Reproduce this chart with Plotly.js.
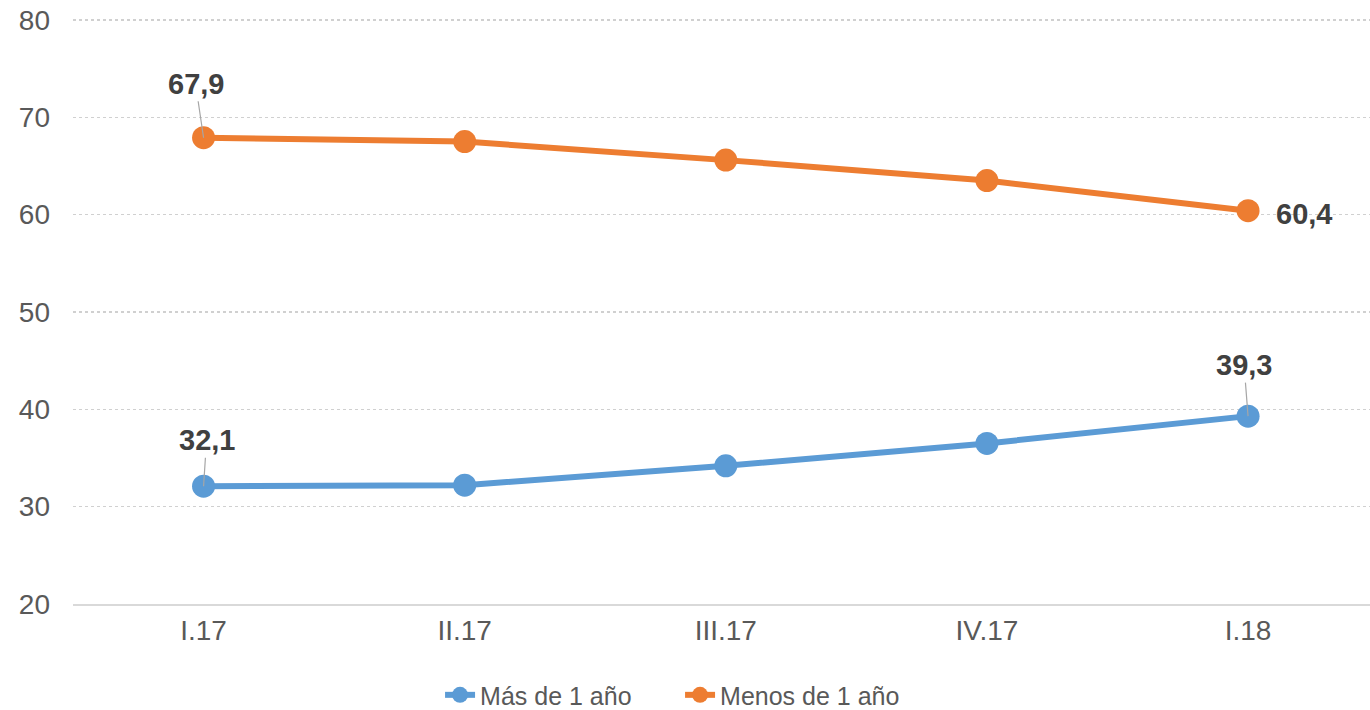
<!DOCTYPE html>
<html>
<head>
<meta charset="utf-8">
<script src="https://cdn.plot.ly/plotly-3.0.1.min.js"></script>
<style>html,body{margin:0;padding:0;background:#fff;}#chart{width:1370px;height:710px;}</style>
</head>
<body>
<div id="chart"></div>
<script>
const categories = ["I.17", "II.17", "III.17", "IV.17", "I.18"];
const masDe1Ano = [32.1, 32.2, 34.2, 36.5, 39.3];
const menosDe1Ano = [67.9, 67.5, 65.6, 63.5, 60.4];
const seriesNames = ["Más de 1 año", "Menos de 1 año"];
const yTicks = [20, 30, 40, 50, 60, 70, 80];

const fmt = v => v.toFixed(1).replace('.', ',');
const labelFont = {family: "Liberation Sans, Arial, sans-serif", size: 29, color: "#404040"};

const traces = [
  {x: categories, y: masDe1Ano, name: seriesNames[0], type: "scatter", mode: "lines+markers",
   line: {color: "#5B9BD5", width: 6}, marker: {color: "#5B9BD5", size: 23}, hoverinfo: "skip"},
  {x: categories, y: menosDe1Ano, name: seriesNames[1], type: "scatter", mode: "lines+markers",
   line: {color: "#ED7D31", width: 6}, marker: {color: "#ED7D31", size: 23}, hoverinfo: "skip"}
];

const last = categories.length - 1;
const annotations = [
  {x: categories[0], y: menosDe1Ano[0], text: "<b>" + fmt(menosDe1Ano[0]) + "</b>", showarrow: true, arrowhead: 0, arrowwidth: 1.2, arrowcolor: "#a6a6a6", ax: -8, ay: -54, font: labelFont},
  {x: categories[0], y: masDe1Ano[0], text: "<b>" + fmt(masDe1Ano[0]) + "</b>", showarrow: true, arrowhead: 0, arrowwidth: 1.2, arrowcolor: "#a6a6a6", ax: 3, ay: -46, font: labelFont},
  {x: categories[last], y: masDe1Ano[last], text: "<b>" + fmt(masDe1Ano[last]) + "</b>", showarrow: true, arrowhead: 0, arrowwidth: 1.2, arrowcolor: "#a6a6a6", ax: -4, ay: -51, font: labelFont},
  {x: categories[last], y: menosDe1Ano[last], text: "<b>" + fmt(menosDe1Ano[last]) + "</b>", showarrow: false, xanchor: "left", yanchor: "middle", xshift: 26, yshift: -3, font: labelFont}
];

const layout = {
  width: 1370, height: 710,
  margin: {l: 73, r: 0, t: 18, b: 106},
  paper_bgcolor: "#ffffff", plot_bgcolor: "#ffffff",
  font: {family: "Liberation Sans, Arial, sans-serif", size: 28, color: "#595959"},
  showlegend: true,
  legend: {orientation: "h", x: 0.283, xanchor: "left", yref: "container", y: 0.021, yanchor: "middle",
           font: {size: 25, color: "#595959"}, entrywidth: 195, tracegroupgap: 0},
  xaxis: {type: "category", range: [-0.5, 4.467], showgrid: false, zeroline: false,
          showline: true, linecolor: "#d9d9d9", linewidth: 2, ticks: "", fixedrange: true,
          tickfont: {size: 28, color: "#595959"}},
  yaxis: {range: [20, 80.2], tickvals: yTicks, showgrid: true, gridcolor: "#d0d0d0", griddash: "dot",
          gridwidth: 1.5, zeroline: false, showline: false, ticks: "", ticklabelstandoff: 22,
          tickfont: {size: 28, color: "#595959"}, fixedrange: true},
  annotations: annotations
};

Plotly.newPlot("chart", traces, layout, {displayModeBar: false, staticPlot: true});
</script>
</body>
</html>
